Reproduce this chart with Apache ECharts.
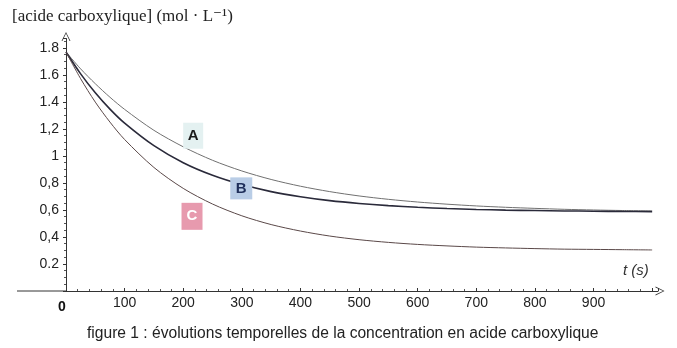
<!DOCTYPE html>
<html><head><meta charset="utf-8">
<script src="https://cdn.jsdelivr.net/npm/echarts@6/dist/echarts.min.js"></script>
<style>html,body{margin:0;padding:0;background:#fff}#c{width:677px;height:348px}</style>
</head><body><div id="c"></div>
<script>
// time (s)
var times = [0,25,50,75,100,150,200,250,300,350,400,450,500,550,600,650,700,750,800,850,900,950,1000];
// concentrations (mol/L)
var curveA = [1.77,1.645,1.535,1.435,1.345,1.19,1.068,0.968,0.889,0.826,0.776,0.736,0.704,0.679,0.659,0.643,0.630,0.620,0.612,0.605,0.600,0.596,0.593];
var curveB = [1.77,1.608,1.468,1.347,1.243,1.076,0.950,0.857,0.788,0.736,0.698,0.669,0.648,0.632,0.620,0.611,0.604,0.599,0.596,0.593,0.591,0.589,0.588];
var curveC = [1.77,1.572,1.399,1.251,1.122,0.915,0.760,0.644,0.557,0.492,0.444,0.407,0.380,0.360,0.345,0.334,0.325,0.319,0.314,0.310,0.308,0.306,0.304];
var seriesNames = ['A','B','C'];
// label anchors [t, value]
var labelPosA = [217, 1.15];
var labelPosB = [299, 0.76];
var labelPosC = [215, 0.553];
var xTickLabels = ['0','100','200','300','400','500','600','700','800','900'];
var yTickLabels = ['', '0.2','0,4','0,6','0,8','1','1,2','1.4','1.6','1.8'];
var yTitle = '[acide carboxylique] (mol \u00B7 L\u207B\u00B9)';
var xTitle = 't (s)';
var caption = 'figure 1 : \u00E9volutions temporelles de la concentration en acide carboxylique';

function pairs(vals){ return times.map(function(t,i){ return [t, vals[i]]; }); }
var arrowPath = 'path://M0,10 L5,0 L10,10 L9,10 L5,1.6 L1,10 Z';

var chart = echarts.init(document.getElementById('c'), null, {renderer:'canvas'});
function lbl(name, pos, size, bg, fg){
  return {data:[{coord:pos, symbol:'rect', symbolSize:size, itemStyle:{color:bg},
    label:{show:true, position:'inside', formatter:name, color:fg, fontWeight:'bold', fontSize:15, fontFamily:'Liberation Sans, Arial'}}],
    animation:false, silent:true};
}
chart.setOption({
  animation:false,
  grid:{left:66, right:19, top:38.5, bottom:57, containLabel:false},
  xAxis:{type:'value', min:0, max:1010, interval:100,
    axisLine:{show:true, lineStyle:{color:'#333', width:1}, symbol:['none', arrowPath], symbolSize:[9,13], symbolOffset:[0,2]},
    axisTick:{show:true, inside:true, length:3, lineStyle:{color:'#333'}},
    minorTick:{show:true, splitNumber:5, length:2, lineStyle:{color:'#555'}},
    splitLine:{show:false},
    axisLabel:{margin:5, fontSize:14, color:'#222', fontFamily:'Liberation Sans, Arial',
      formatter:function(v){ var i = Math.round(v/100); if (Math.abs(v - i*100) > 1e-6 || i >= xTickLabels.length) return ''; return i===0 ? '{b|'+xTickLabels[0]+'}' : xTickLabels[i]; },
      rich:{b:{fontWeight:'bold', fontSize:14, color:'#111', padding:[4,8,0,0], fontFamily:'Liberation Sans, Arial'}}}
  },
  yAxis:{type:'value', min:0, max:1.87, interval:0.2,
    axisLine:{show:true, lineStyle:{color:'#333', width:1}, symbol:['none', arrowPath], symbolSize:[9,13], symbolOffset:[0,2]},
    axisTick:{show:true, inside:false, length:3, lineStyle:{color:'#333'}},
    minorTick:{show:true, splitNumber:4, length:2, lineStyle:{color:'#555'}},
    splitLine:{show:false},
    axisLabel:{margin:7, fontSize:14, color:'#222', fontFamily:'Liberation Sans, Arial',
      formatter:function(v){ var i = Math.round(v/0.2); if (Math.abs(v - i*0.2) > 1e-6 || i >= yTickLabels.length) return ''; return yTickLabels[i]; }}
  },
  series:[
    {name:seriesNames[0], type:'line', data:pairs(curveA), showSymbol:false, smooth:0.3, lineStyle:{color:'#707070', width:1}, markPoint:lbl('A', labelPosA, [20,26], '#e4f1f1', '#1a1a1a')},
    {name:seriesNames[1], type:'line', data:pairs(curveB), showSymbol:false, smooth:0.3, lineStyle:{color:'#2a2a3a', width:1.6}, markPoint:lbl('B', labelPosB, [22,22], '#b9cde6', '#1f2f5a')},
    {name:seriesNames[2], type:'line', data:pairs(curveC), showSymbol:false, smooth:0.3, lineStyle:{color:'#5a4848', width:1}, markPoint:lbl('C', labelPosC, [21,27], '#e79aae', '#ffffff')}
  ],
  graphic:[
    {type:'line', shape:{x1:17, y1:291, x2:66, y2:291}, style:{stroke:'#333', lineWidth:1}},
    {type:'text', left:12, top:8, style:{text:yTitle, font:'17px "Liberation Serif", "DejaVu Serif", serif', fill:'#222'}},
    {type:'text', left:623, top:263, style:{text:xTitle, font:'italic 15px "Liberation Sans", Arial', fill:'#333'}},
    {type:'text', left:87, top:326, style:{text:caption, font:'15.6px "Liberation Sans", Arial', fill:'#222'}}
  ]
});
</script></body></html>
